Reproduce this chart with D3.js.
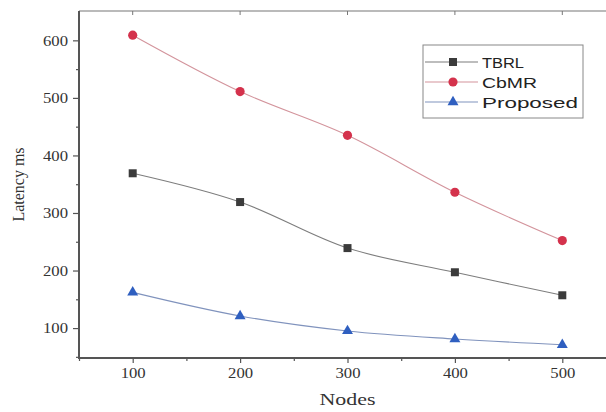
<!DOCTYPE html>
<html>
<head>
<meta charset="utf-8">
<script src="https://cdn.jsdelivr.net/npm/d3@7"></script>
<style>
  html, body { margin: 0; padding: 0; background: #fff; }
  svg { display: block; }
</style>
</head>
<body>
<svg id="chart" width="606" height="412"></svg>
<script>
// Latency per node count for three routing schemes
const nodes = [100, 200, 300, 400, 500];
const tbrl = [369, 319, 239, 197, 157];
const cbmr = [609, 511, 435, 336, 252];
const proposed = [162, 121, 95, 81, 71];
const seriesNames = ["TBRL", "CbMR", "Proposed"];
const xTicks = [100, 200, 300, 400, 500];
const yTicks = [100, 200, 300, 400, 500, 600];

const W = 606, H = 412;
const plot = { left: 79, top: 11, right: 616, bottom: 358 };

const svg = d3.select("#chart");

const x = d3.scaleLinear().domain([50, 550]).range([plot.left, plot.right]);
const y = d3.scaleLinear().domain([48, 651]).range([plot.bottom, plot.top]);

const series = [
  { name: seriesNames[0], values: tbrl, line: "#7d7d7d", fill: "#3b3b3b", shape: d3.symbolSquare, size: 64 },
  { name: seriesNames[1], values: cbmr, line: "#d3949c", fill: "#d4324c", shape: d3.symbolCircle, size: 66 },
  { name: seriesNames[2], values: proposed, line: "#8093bd", fill: "#2f5fc0", shape: d3.symbolTriangle, size: 52 }
];

const frame = "#555";
const serif = "'Liberation Serif', 'Times New Roman', serif";

// top border with inward ticks
svg.append("line")
  .attr("x1", plot.left).attr("x2", W)
  .attr("y1", plot.top).attr("y2", plot.top)
  .attr("stroke", "#777").attr("stroke-width", 1.2);
svg.append("g").selectAll("line")
  .data(xTicks).join("line")
  .attr("x1", d => x(d)).attr("x2", d => x(d))
  .attr("y1", plot.top).attr("y2", plot.top + 4)
  .attr("stroke", "#777").attr("stroke-width", 1);

// lines
const line = d3.line()
  .x((d, i) => x(nodes[i]))
  .y(d => y(d))
  .curve(d3.curveCatmullRom.alpha(0.5));

series.forEach(s => {
  svg.append("path")
    .datum(s.values)
    .attr("fill", "none")
    .attr("stroke", s.line)
    .attr("stroke-width", 1.1)
    .attr("d", line);
});

// markers
series.forEach(s => {
  svg.append("g").selectAll("path")
    .data(s.values).join("path")
    .attr("transform", (d, i) => `translate(${x(nodes[i])},${y(d)})`)
    .attr("d", d3.symbol().type(s.shape).size(s.size))
    .attr("fill", s.fill);
});

// bottom axis
const xAxis = d3.axisBottom(x).tickValues(xTicks).tickSize(5).tickPadding(4).tickFormat(d3.format("d"));
const gx = svg.append("g").attr("transform", `translate(0,${plot.bottom})`).call(xAxis);
gx.select(".domain").remove();
gx.selectAll(".tick line").attr("stroke", frame).attr("stroke-width", 1.2);
gx.selectAll(".tick text")
  .attr("fill", "#333").attr("font-family", serif).attr("font-size", 15)
  .attr("textLength", 25).attr("lengthAdjust", "spacingAndGlyphs");
const xMinor = d3.axisBottom(x).tickValues([50, 150, 250, 350, 450]).tickSize(3).tickFormat("");
const gxm = svg.append("g").attr("transform", `translate(0,${plot.bottom})`).call(xMinor);
gxm.select(".domain").remove();
gxm.selectAll(".tick line").attr("stroke", frame).attr("stroke-width", 1.2);
svg.append("line")
  .attr("x1", plot.left).attr("x2", W)
  .attr("y1", plot.bottom).attr("y2", plot.bottom)
  .attr("stroke", frame).attr("stroke-width", 2);

// left axis
const yAxis = d3.axisLeft(y).tickValues(yTicks).tickSize(6).tickPadding(5).tickFormat(d3.format("d"));
const gy = svg.append("g").attr("transform", `translate(${plot.left},0)`).call(yAxis);
gy.select(".domain").remove();
gy.selectAll(".tick line").attr("stroke", frame).attr("stroke-width", 1.2);
gy.selectAll(".tick text")
  .attr("fill", "#333").attr("font-family", serif).attr("font-size", 15)
  .attr("textLength", 25).attr("lengthAdjust", "spacingAndGlyphs");
const yMinor = d3.axisLeft(y).tickValues([50, 150, 250, 350, 450, 550]).tickSize(3).tickFormat("");
const gym = svg.append("g").attr("transform", `translate(${plot.left},0)`).call(yMinor);
gym.select(".domain").remove();
gym.selectAll(".tick line").attr("stroke", frame).attr("stroke-width", 1.2);
svg.append("line")
  .attr("x1", plot.left).attr("x2", plot.left)
  .attr("y1", plot.top).attr("y2", plot.bottom + 1)
  .attr("stroke", frame).attr("stroke-width", 2);

// axis titles
svg.append("text")
  .attr("x", x(300)).attr("y", 405)
  .attr("text-anchor", "middle")
  .attr("font-family", serif).attr("font-size", 17).attr("fill", "#333")
  .attr("textLength", 56).attr("lengthAdjust", "spacingAndGlyphs")
  .text("Nodes");
svg.append("text")
  .attr("transform", `translate(24,${(plot.top + plot.bottom) / 2}) rotate(-90)`)
  .attr("text-anchor", "middle")
  .attr("font-family", serif).attr("font-size", 16).attr("fill", "#333")
  .text("Latency ms");

// legend
const legend = svg.append("g").attr("transform", "translate(423,45)");
legend.append("rect")
  .attr("x", 0).attr("y", 0).attr("width", 160).attr("height", 73)
  .attr("fill", "#fff").attr("stroke", "#888").attr("stroke-width", 1);
const legendWidths = [42, 55, 96];
series.forEach((s, i) => {
  const yy = 17 + i * 20;
  legend.append("line")
    .attr("x1", 2).attr("x2", 55).attr("y1", yy).attr("y2", yy)
    .attr("stroke", s.line).attr("stroke-width", 1.1);
  legend.append("path")
    .attr("transform", `translate(30,${yy})`)
    .attr("d", d3.symbol().type(s.shape).size(s.size))
    .attr("fill", s.fill);
  legend.append("text")
    .attr("x", 59).attr("y", yy + 5.5)
    .attr("font-family", "'Liberation Sans', Arial, sans-serif")
    .attr("font-size", 15).attr("fill", "#222")
    .attr("textLength", legendWidths[i]).attr("lengthAdjust", "spacingAndGlyphs")
    .text(s.name);
});
</script>
</body>
</html>
